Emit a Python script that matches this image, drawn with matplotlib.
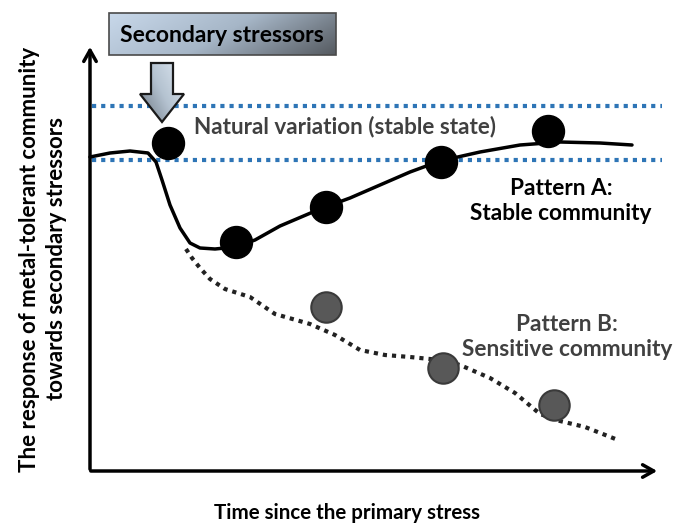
import matplotlib
matplotlib.use("Agg")
import matplotlib.pyplot as plt
import numpy as np
from matplotlib.patches import Polygon, Rectangle
from matplotlib.colors import LinearSegmentedColormap

plt.rcParams['font.family'] = ['Lato', 'DejaVu Sans']

# Data (in picture coordinates: x to the right, y downward)
solid_x = [90, 110, 130, 148, 156, 162, 170, 180, 190, 200, 215, 235, 255, 280, 320, 350, 380, 410, 440, 480, 520, 560, 600, 632]
solid_y = [157, 153, 151, 153, 162, 180, 205, 228, 243, 248, 249, 247, 240, 226, 209, 198, 185, 172, 161, 152, 145, 142, 143, 145]
dotted_x = [186, 192, 200, 210, 225, 250, 275, 310, 335, 360, 385, 410, 440, 460, 490, 515, 540, 560, 585, 618]
dotted_y = [249, 258, 268, 279, 289, 297, 314, 324, 335, 350, 355, 357, 360, 365, 378, 393, 414, 421, 427, 440]
a_x = [168, 236, 326, 441, 548]
a_y = [143, 242, 207, 162, 131]
b_x = [326, 443, 554]
b_y = [307, 368, 405]
band_y = [106, 160]

W, H = 676, 524
fig = plt.figure(figsize=(W/100, H/100), dpi=100)
ax = fig.add_axes([0, 0, 1, 1])
ax.set_xlim(0, W)
ax.set_ylim(H, 0)
ax.axis('off')

# axes arrows
ax.annotate('', xy=(90, 44), xytext=(90, 472),
            arrowprops=dict(arrowstyle='->,head_length=0.8,head_width=0.45', lw=2.5, color='black'))
ax.annotate('', xy=(660, 471), xytext=(88, 471),
            arrowprops=dict(arrowstyle='->,head_length=0.8,head_width=0.45', lw=2.5, color='black'))

# band lines
for yb in band_y:
    ax.plot([92, 662], [yb, yb], color='#2e75b6', lw=3, linestyle=(0, (1, 1.2)))

# curves
ax.plot(solid_x, solid_y, color='black', lw=2.5, solid_capstyle='round', zorder=3)
ax.plot(dotted_x, dotted_y, color='#222222', lw=3, linestyle=(0, (1, 1.2)), zorder=3)

# circles
ax.scatter(a_x, a_y, s=530, color='black', zorder=5)
ax.scatter(b_x, b_y, s=480, color='#585858', edgecolors='#3a3a3a', linewidths=1.5, zorder=5)

xx, yy = np.meshgrid(np.linspace(0, 1, 128), np.linspace(0, 1, 128))

# gradient box (light at bottom-left, dark at top-right)
cm_box = LinearSegmentedColormap.from_list('b', ['#c8d8ea', '#a6b6c7', '#555a60'])
bx0, by0, bw, bh = 109, 13, 227, 42
zb = (0.75 * xx + 0.25 * (1 - yy))
im = ax.imshow(zb, cmap=cm_box, extent=(bx0, bx0 + bw, by0 + bh, by0), origin='lower',
               aspect='auto', zorder=6, interpolation='bilinear')
im.set_clip_path(Rectangle((bx0, by0), bw, bh, transform=ax.transData))
ax.add_patch(Rectangle((bx0, by0), bw, bh, facecolor='none', edgecolor='#4a4a4a', lw=1.2, zorder=7))
ax.text(222, 35, 'Secondary stressors', ha='center', va='center', fontsize=16.5,
        fontweight='bold', zorder=8)

# block arrow
arr = [(151, 63), (173, 63), (173, 94), (184, 94), (162, 122), (140, 94), (151, 94)]
cm_arr = LinearSegmentedColormap.from_list('a', ['#6b7580', '#b4c2d0', '#dde7f1'])
za = (0.6 * xx + 0.4 * yy)
im2 = ax.imshow(za, cmap=cm_arr, extent=(140, 184, 122, 63), origin='lower', aspect='auto',
                zorder=6, interpolation='bilinear')
ax.add_patch(Polygon(arr, closed=True, facecolor='none', edgecolor='#1a1a1a', lw=1.6, zorder=7))
im2.set_clip_path(Polygon(arr, closed=True, transform=ax.transData))

# texts
ax.text(345, 127, 'Natural variation (stable state)', ha='center', va='center', fontsize=16.2,
        fontweight='bold', color='#404040')
ax.text(561, 201, 'Pattern A:\nStable community', ha='center', va='center', fontsize=16.3,
        fontweight='bold', color='black', linespacing=1.25)
ax.text(567, 337, 'Pattern B:\nSensitive community', ha='center', va='center', fontsize=16.3,
        fontweight='bold', color='#404040', linespacing=1.25)
ax.text(43, 259, 'The response of metal-tolerant community\ntowards secondary stressors', ha='center',
        va='center', rotation=90, fontsize=16, fontweight='bold', color='black', linespacing=1.35)
ax.text(347, 513, 'Time since the primary stress', ha='center', va='center', fontsize=14.8,
        fontweight='bold', color='black')

fig.savefig('out.png', dpi=100)
